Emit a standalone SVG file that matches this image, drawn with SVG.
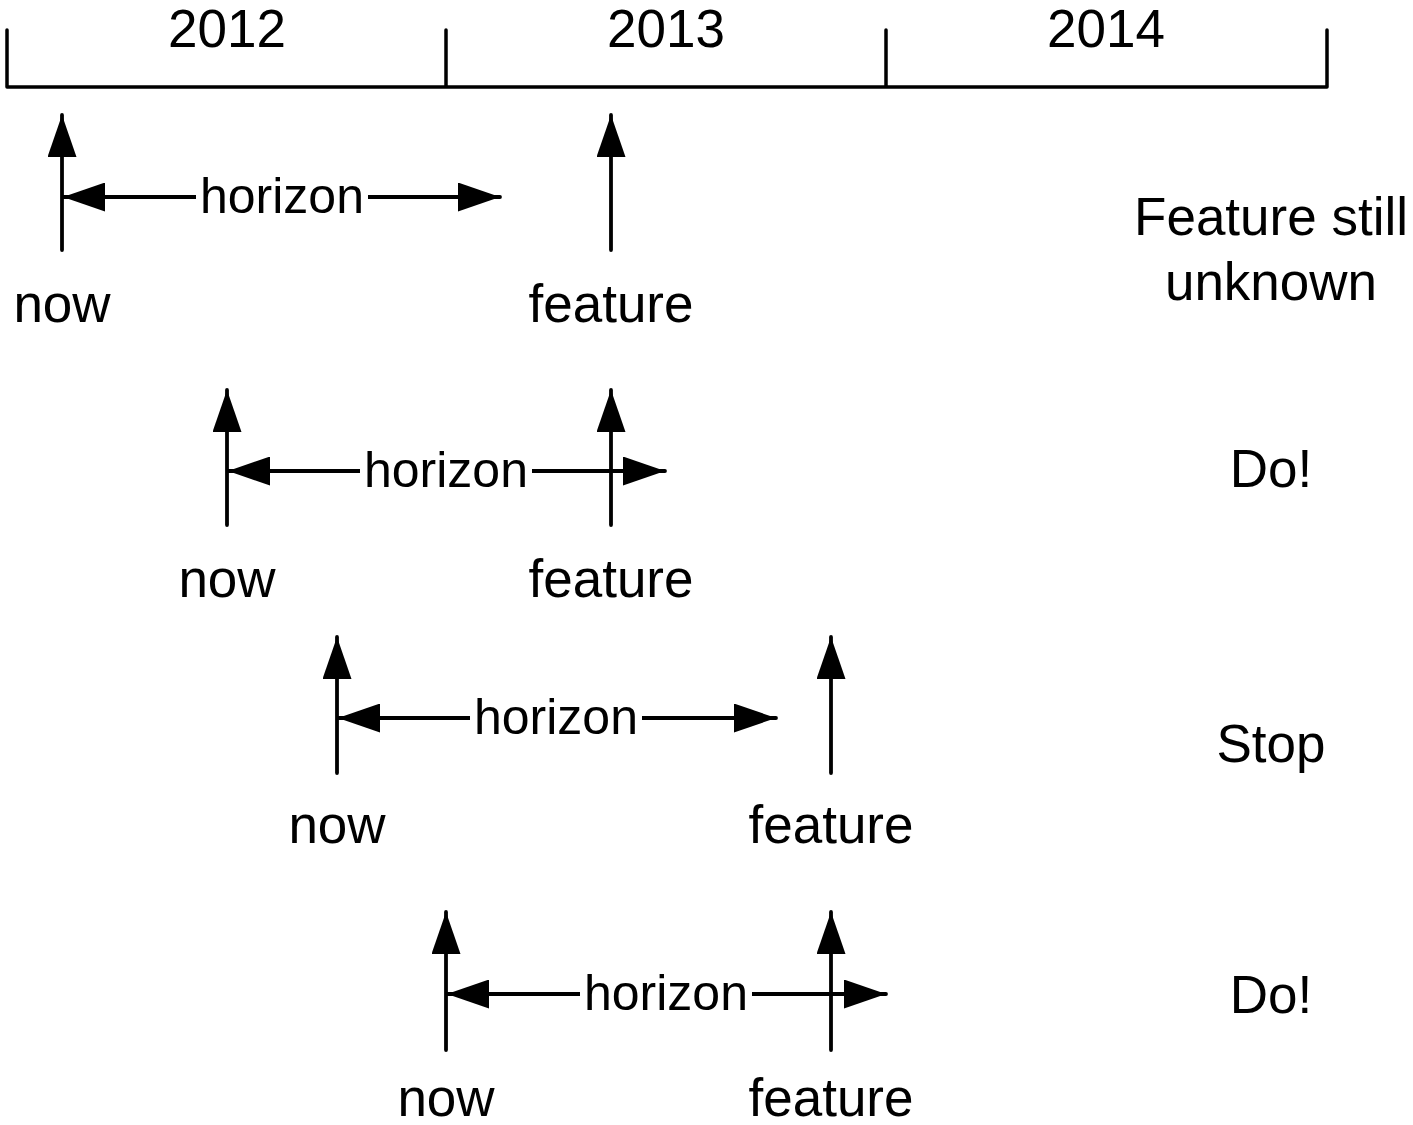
<svg xmlns="http://www.w3.org/2000/svg" width="1413" height="1125" viewBox="0 0 1413 1125">
<style>
  .ln { stroke: #000; stroke-width: 3.8; fill: none; stroke-linecap: round; }
  .ax { stroke: #000; stroke-width: 3.5; fill: none; stroke-linecap: round; stroke-linejoin: round; }
  .t { font-family: "Liberation Sans", Arial, sans-serif; font-size: 53px; fill: #000; text-anchor: middle; }
  .h { font-family: "Liberation Sans", Arial, sans-serif; font-size: 50px; fill: #000; text-anchor: middle; }
  .hb { fill: #fff; }
</style>
<defs>
  <marker id="ah" viewBox="0 0 42 29" refX="42" refY="14.5" markerWidth="42" markerHeight="29" markerUnits="userSpaceOnUse" orient="auto-start-reverse">
    <path d="M0,0 L42,14.5 L0,29 Z" fill="#000"/>
  </marker>
</defs>
<g id="timeline">
  <path class="ax" d="M7,30 V87 H1327 V30 M446,30 V87 M886,30 V87"/>
  <text class="t" x="227" y="47">2012</text>
  <text class="t" x="666" y="47">2013</text>
  <text class="t" x="1106" y="47">2014</text>
</g>
<g id="connectors">
  <!-- row 1 -->
  <line class="ln" x1="62" y1="250" x2="62" y2="115" marker-end="url(#ah)"/>
  <line class="ln" x1="611" y1="250" x2="611" y2="115" marker-end="url(#ah)"/>
  <line class="ln" x1="63" y1="197" x2="500" y2="197" marker-start="url(#ah)" marker-end="url(#ah)"/>
  <!-- row 2 -->
  <line class="ln" x1="227" y1="525" x2="227" y2="390" marker-end="url(#ah)"/>
  <line class="ln" x1="611" y1="525" x2="611" y2="390" marker-end="url(#ah)"/>
  <line class="ln" x1="228" y1="471" x2="665" y2="471" marker-start="url(#ah)" marker-end="url(#ah)"/>
  <!-- row 3 -->
  <line class="ln" x1="337" y1="773" x2="337" y2="637" marker-end="url(#ah)"/>
  <line class="ln" x1="831" y1="773" x2="831" y2="637" marker-end="url(#ah)"/>
  <line class="ln" x1="338" y1="718" x2="776" y2="718" marker-start="url(#ah)" marker-end="url(#ah)"/>
  <!-- row 4 -->
  <line class="ln" x1="446" y1="1050" x2="446" y2="912" marker-end="url(#ah)"/>
  <line class="ln" x1="831" y1="1050" x2="831" y2="912" marker-end="url(#ah)"/>
  <line class="ln" x1="447" y1="994" x2="886" y2="994" marker-start="url(#ah)" marker-end="url(#ah)"/>
</g>
<g id="row1">
  <rect class="hb" x="196" y="180" width="172" height="34"/>
  <text class="h" x="282" y="213">horizon</text>
  <text class="t" x="62" y="322">now</text>
  <text class="t" x="611" y="322">feature</text>
  <text class="t" x="1271" y="235">Feature still</text>
  <text class="t" x="1271" y="300">unknown</text>
</g>
<g id="row2">
  <rect class="hb" x="360" y="454" width="172" height="34"/>
  <text class="h" x="446" y="487">horizon</text>
  <text class="t" x="227" y="597">now</text>
  <text class="t" x="611" y="597">feature</text>
  <text class="t" x="1271" y="487">Do!</text>
</g>
<g id="row3">
  <rect class="hb" x="470" y="701" width="172" height="34"/>
  <text class="h" x="556" y="734">horizon</text>
  <text class="t" x="337" y="843">now</text>
  <text class="t" x="831" y="843">feature</text>
  <text class="t" x="1271" y="762">Stop</text>
</g>
<g id="row4">
  <rect class="hb" x="580" y="977" width="172" height="34"/>
  <text class="h" x="666" y="1010">horizon</text>
  <text class="t" x="446" y="1116">now</text>
  <text class="t" x="831" y="1116">feature</text>
  <text class="t" x="1271" y="1013">Do!</text>
</g>
</svg>
